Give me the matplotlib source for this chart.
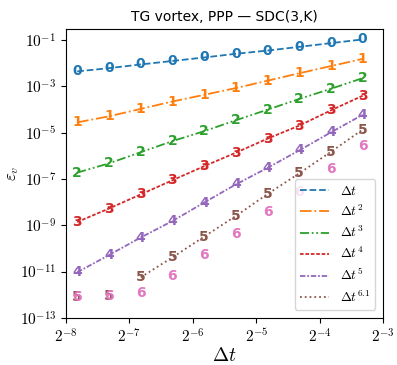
import numpy as np
import matplotlib
matplotlib.use("Agg")
import matplotlib.pyplot as plt
from matplotlib.ticker import FuncFormatter

plt.rcParams['mathtext.fontset'] = 'cm'

# time steps (0.1 / sqrt(2)^k)
dt = [0.00442, 0.00625, 0.00884, 0.0125, 0.0177, 0.025, 0.0354, 0.05, 0.0707, 0.1]

# log10 of error per sweep count K
err0 = [-2.36, -2.22, -2.06, -1.91, -1.76, -1.60, -1.46, -1.30, -1.14, -0.98]
err1 = [-4.56, -4.30, -3.98, -3.66, -3.37, -3.08, -2.76, -2.44, -2.13, -1.82]
err2 = [-6.73, -6.33, -5.85, -5.37, -4.94, -4.47, -4.01, -3.55, -3.11, -2.65]
err3 = [-8.86, -8.28, -7.67, -7.06, -6.45, -5.87, -5.26, -4.70, -4.04, -3.41]
err4 = [-11.03, -10.29, -9.53, -8.82, -8.02, -7.24, -6.52, -5.77, -4.99, -4.23]
err5 = [-12.10, -12.04, -11.25, -10.39, -9.49, -8.60, -7.65, -6.76, -5.83, -4.87]
err6 = [-12.10, -12.04, -11.94, -11.18, -10.29, -9.39, -8.45, -7.55, -6.56, -5.56]

labels = [r'$\Delta t$', r'$\Delta t^2$', r'$\Delta t^3$', r'$\Delta t^4$',
          r'$\Delta t^5$', r'$\Delta t^{6.1}$']
xticks_exp = [-8, -7, -6, -5, -4, -3]
yticks_exp = [-13, -11, -9, -7, -5, -3, -1]

errs = [err0, err1, err2, err3, err4, err5, err6]
colors = ['#1f77b4', '#ff7f0e', '#2ca02c', '#d62728', '#9467bd', '#8c564b', '#e377c2']
styles = ['--', '-.', (0, (5, 1.5, 1, 1.5, 1, 1.5)), (0, (2, 1)),
          (0, (3, 1, 1, 1)), ':']
line_start = [0, 0, 0, 0, 0, 2]

fig = plt.figure(figsize=(3.97, 3.65), dpi=100)
ax = fig.add_axes([0.166, 0.129, 0.799, 0.792])

for k in range(7):
    vals = 10.0 ** np.array(errs[k])
    if k < 6:
        s = line_start[k]
        ax.plot(dt[s:], vals[s:], color=colors[k], ls=styles[k], lw=1.3, label=labels[k])
    for x, y in zip(dt, vals):
        ax.text(x, y, str(k), color=colors[k], fontsize=10, fontweight='bold',
                ha='center', va='center', zorder=3)

ax.set_xscale('log', base=2)
ax.set_yscale('log')
ax.set_xlim(2.0 ** -8, 2.0 ** -3)
ax.set_ylim(1e-13, 0.3)
ax.set_xticks([2.0 ** p for p in xticks_exp])
ax.set_yticks([10.0 ** p for p in yticks_exp])
ax.xaxis.set_major_formatter(FuncFormatter(lambda v, pos: r'$2^{%d}$' % round(np.log2(v))))
ax.yaxis.set_major_formatter(FuncFormatter(lambda v, pos: r'$10^{%d}$' % round(np.log10(v))))
ax.minorticks_off()
ax.tick_params(labelsize=11)
ax.set_xlabel(r'$\Delta t$', fontsize=14, labelpad=0)
ax.set_ylabel(r'$\varepsilon_v$', fontsize=12)
ax.yaxis.set_label_coords(-0.14, 0.5)
ax.set_title('TG vortex, PPP — SDC(3,K)', fontsize=10)
ax.legend(loc='lower right', fontsize=9.5, handlelength=2.2, labelspacing=0.45,
          borderaxespad=0.6)

fig.savefig('out.png', dpi=100)
